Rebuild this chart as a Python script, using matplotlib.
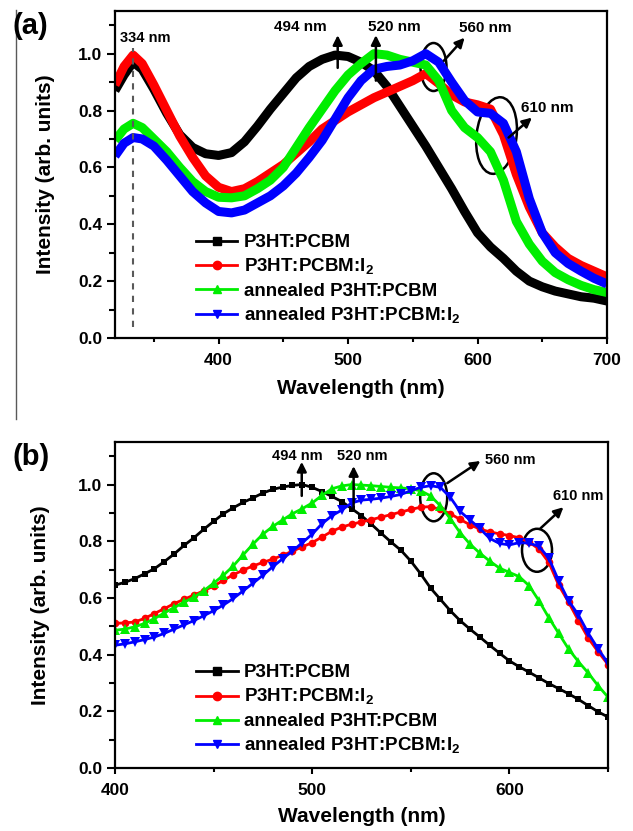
import matplotlib
matplotlib.use('Agg')
import matplotlib.pyplot as plt
from matplotlib.lines import Line2D
from matplotlib.patches import Ellipse
from matplotlib.transforms import ScaledTranslation
from matplotlib.ticker import MultipleLocator

# -----------------------------
# data
# -----------------------------
# (a) full spectra
wl_a = [320, 327, 334, 341, 350, 360, 370, 380, 390, 400, 410, 420, 430, 440, 450, 460, 470, 480, 490, 500,
        510, 520, 530, 540, 550, 560, 570, 580, 590, 600, 610, 620, 630, 640, 650, 660, 670, 680, 690, 700]
black_a = [0.87, 0.925, 0.97, 0.945, 0.875, 0.79, 0.715, 0.67, 0.648, 0.642, 0.652, 0.69, 0.745, 0.805, 0.86, 0.915, 0.955, 0.98, 0.995, 0.99,
           0.97, 0.94, 0.885, 0.815, 0.745, 0.675, 0.60, 0.525, 0.445, 0.37, 0.32, 0.28, 0.235, 0.20, 0.18, 0.165, 0.155, 0.145, 0.14, 0.13]
red_a = [0.89, 0.955, 0.995, 0.965, 0.89, 0.80, 0.71, 0.635, 0.57, 0.53, 0.515, 0.525, 0.55, 0.58, 0.61, 0.65, 0.69, 0.735, 0.765, 0.795,
         0.82, 0.845, 0.865, 0.885, 0.905, 0.93, 0.895, 0.855, 0.83, 0.82, 0.805, 0.715, 0.575, 0.46, 0.37, 0.32, 0.28, 0.255, 0.235, 0.215]
green_a = [0.695, 0.735, 0.755, 0.74, 0.70, 0.655, 0.60, 0.55, 0.515, 0.495, 0.493, 0.50, 0.525, 0.555, 0.60, 0.67, 0.74, 0.805, 0.87, 0.925,
           0.965, 1.0, 0.995, 0.98, 0.97, 0.96, 0.905, 0.80, 0.74, 0.705, 0.655, 0.555, 0.41, 0.33, 0.27, 0.23, 0.205, 0.185, 0.17, 0.16]
blue_a = [0.64, 0.685, 0.705, 0.70, 0.675, 0.625, 0.57, 0.515, 0.475, 0.445, 0.44, 0.45, 0.475, 0.50, 0.535, 0.58, 0.635, 0.695, 0.77, 0.845,
          0.905, 0.945, 0.955, 0.96, 0.975, 1.0, 0.97, 0.90, 0.835, 0.795, 0.79, 0.755, 0.655, 0.49, 0.37, 0.30, 0.262, 0.235, 0.21, 0.19]

# (b) zoom 400-650 nm, one point every 5 nm
wl_b = list(range(400, 655, 5))
black_b = [0.645, 0.655, 0.668, 0.685, 0.703, 0.728, 0.755, 0.785, 0.812, 0.842,
           0.870, 0.897, 0.918, 0.937, 0.953, 0.970, 0.983, 0.991, 0.997, 1.0,
           0.99, 0.975, 0.958, 0.94, 0.915, 0.89, 0.86, 0.828, 0.797, 0.768,
           0.73, 0.685, 0.635, 0.595, 0.555, 0.52, 0.49, 0.462, 0.433, 0.405,
           0.378, 0.357, 0.338, 0.318, 0.298, 0.28, 0.262, 0.242, 0.22, 0.198,
           0.18]
red_b = [0.51, 0.512, 0.515, 0.528, 0.545, 0.562, 0.58, 0.595, 0.61, 0.625,
         0.642, 0.662, 0.682, 0.698, 0.713, 0.725, 0.737, 0.75, 0.765, 0.78,
         0.795, 0.815, 0.835, 0.85, 0.86, 0.868, 0.876, 0.885, 0.894, 0.903,
         0.912, 0.92, 0.922, 0.912, 0.897, 0.877, 0.858, 0.843, 0.833, 0.826,
         0.82, 0.812, 0.797, 0.772, 0.725, 0.645, 0.585, 0.52, 0.458, 0.41,
         0.365]
green_b = [0.486, 0.49, 0.498, 0.51, 0.527, 0.547, 0.566, 0.585, 0.602, 0.625,
           0.652, 0.68, 0.713, 0.752, 0.79, 0.825, 0.852, 0.875, 0.897, 0.915,
           0.935, 0.962, 0.985, 0.995, 1.0, 0.998, 0.996, 0.993, 0.99, 0.988,
           0.985, 0.978, 0.96, 0.925, 0.88, 0.83, 0.79, 0.758, 0.73, 0.705,
           0.69, 0.675, 0.643, 0.59, 0.53, 0.475, 0.42, 0.375, 0.335, 0.29,
           0.25]
blue_b = [0.433, 0.438, 0.445, 0.453, 0.462, 0.475, 0.49, 0.505, 0.52, 0.537,
          0.555, 0.575, 0.598, 0.625, 0.652, 0.68, 0.71, 0.738, 0.765, 0.795,
          0.825, 0.862, 0.89, 0.91, 0.935, 0.945, 0.948, 0.952, 0.958, 0.965,
          0.978, 0.99, 0.996, 0.99, 0.955, 0.905, 0.875, 0.845, 0.81, 0.792,
          0.787, 0.795, 0.793, 0.782, 0.74, 0.66, 0.59, 0.54, 0.475, 0.42,
          0.37]

labels = ['P3HT:PCBM', r'P3HT:PCBM:I$_\mathbf{2}$', 'annealed P3HT:PCBM', r'annealed P3HT:PCBM:I$_\mathbf{2}$']
colors = ['#000000', '#ff0000', '#00ee00', '#0000ff']
markers = ['s', 'o', '^', 'v']

plt.rcParams['font.family'] = ['Liberation Sans', 'DejaVu Sans']
plt.rcParams['font.weight'] = 'bold'
plt.rcParams['mathtext.fontset'] = 'custom'
plt.rcParams['mathtext.rm'] = 'Liberation Sans:bold'
plt.rcParams['mathtext.bf'] = 'Liberation Sans:bold'

fig = plt.figure(figsize=(6.33, 8.31), dpi=100)
ax_a = fig.add_axes([115/633, 1-338/831, 492/633, 327/831])
ax_b = fig.add_axes([115/633, 1-768/831, 493/633, 326/831])


def ring(ax, x, y, w_px, h_px, angle=0):
    # ellipse sized in pixels, centred on a data point
    tr = fig.dpi_scale_trans + ScaledTranslation(x, y, ax.transData)
    ax.add_patch(Ellipse((0, 0), w_px/100, h_px/100, angle=angle, fill=False,
                         lw=1.8, ec='k', transform=tr))


def arrow(ax, x0, y0, x1, y1):
    ax.annotate('', xy=(x1, y1), xytext=(x0, y0),
                arrowprops=dict(arrowstyle='-|>', color='k', lw=1.8, mutation_scale=14,
                                shrinkA=0, shrinkB=0))


def style(ax, xlim, xmaj, xlabel_y, ylabel_x):
    ax.set_xlim(*xlim)
    ax.set_ylim(0, 1.15)
    ax.xaxis.set_major_locator(MultipleLocator(xmaj))
    ax.xaxis.set_minor_locator(MultipleLocator(xmaj/2))
    ax.set_yticks([0, 0.2, 0.4, 0.6, 0.8, 1.0])
    ax.yaxis.set_minor_locator(MultipleLocator(0.1))
    ax.tick_params(axis='x', which='major', direction='out', length=4.5, width=1.5, pad=6, labelsize=12.5)
    ax.tick_params(axis='x', which='minor', direction='out', length=3, width=1.5)
    ax.tick_params(axis='y', which='major', direction='out', length=6, width=1.5, pad=3, labelsize=12.5)
    ax.tick_params(axis='y', which='minor', direction='out', length=4, width=1.5)
    for s in ax.spines.values():
        s.set_linewidth(1.6)
    ax.set_xlabel('Wavelength (nm)', fontsize=15, fontweight='bold')
    ax.set_ylabel('Intensity (arb. units)', fontsize=15, fontweight='bold')
    ax.xaxis.set_label_coords(0.5, xlabel_y)
    ax.yaxis.set_label_coords(ylabel_x, 0.5)
    handles = [Line2D([], [], color=c, marker=m, lw=2, markersize=6) for c, m in zip(colors, markers)]
    ax.legend(handles, labels, loc='upper left', bbox_to_anchor=(0.165, 0.318), frameon=False,
              fontsize=13.5, handlelength=2.2, handletextpad=0.35, labelspacing=0.3,
              borderpad=0, borderaxespad=0)


# -----------------------------
# (a)
# -----------------------------
for y, c in zip([black_a, red_a, green_a, blue_a], colors):
    ax_a.plot(wl_a, y, color=c, lw=6.5, solid_capstyle='butt', solid_joinstyle='round')
ax_a.plot([334, 334], [0.04, 1.02], color='0.35', lw=1.5, ls=(0, (3, 3)))
ax_a.text(343, 1.055, '334 nm', fontsize=10.5, ha='center', va='center')
arrow(ax_a, 492, 0.95, 492, 1.065)
ax_a.text(463, 1.095, '494 nm', fontsize=11, ha='center', va='center')
arrow(ax_a, 521.5, 0.905, 521.5, 1.065)
ax_a.text(536, 1.095, '520 nm', fontsize=11, ha='center', va='center')
ring(ax_a, 566, 0.953, 26, 48)
arrow(ax_a, 574, 0.975, 590, 1.056)
ax_a.text(606, 1.09, '560 nm', fontsize=11, ha='center', va='center')
ring(ax_a, 614.7, 0.712, 40, 77, angle=-7)
arrow(ax_a, 624, 0.705, 642, 0.775)
ax_a.text(654, 0.81, '610 nm', fontsize=11, ha='center', va='center')
style(ax_a, (320, 700), 100, -0.125, -0.122)

# -----------------------------
# (b)
# -----------------------------
msizes = [5, 5.5, 6.5, 6.5]
for y, c, m, ms in zip([black_b, red_b, green_b, blue_b], colors, markers, msizes):
    ax_b.plot(wl_b, y, color=c, lw=2, marker=m, markersize=ms, markeredgewidth=0)
arrow(ax_b, 494.7, 0.96, 494.7, 1.08)
ax_b.text(492.5, 1.1, '494 nm', fontsize=10.5, ha='center', va='center')
arrow(ax_b, 521, 0.92, 521, 1.065)
ax_b.text(525.5, 1.1, '520 nm', fontsize=10.5, ha='center', va='center')
ring(ax_b, 561.6, 0.955, 27, 48)
arrow(ax_b, 568.5, 1.005, 585.3, 1.083)
ax_b.text(600.5, 1.088, '560 nm', fontsize=10.5, ha='center', va='center')
ring(ax_b, 614, 0.768, 30, 43)
arrow(ax_b, 615.7, 0.845, 627.4, 0.92)
ax_b.text(635, 0.96, '610 nm', fontsize=10.5, ha='center', va='center')
style(ax_b, (400, 650), 100, -0.12, -0.132)

fig.text(13/633, 1-26/831, '(a)', fontsize=21, fontweight='bold', ha='left', va='center')
fig.text(13/633, 1-457/831, '(b)', fontsize=21, fontweight='bold', ha='left', va='center')
fig.add_artist(Line2D([16/633, 16/633], [1-10/831, 1-419/831], color='0.35', lw=1))

fig.savefig('out.png', dpi=100)
